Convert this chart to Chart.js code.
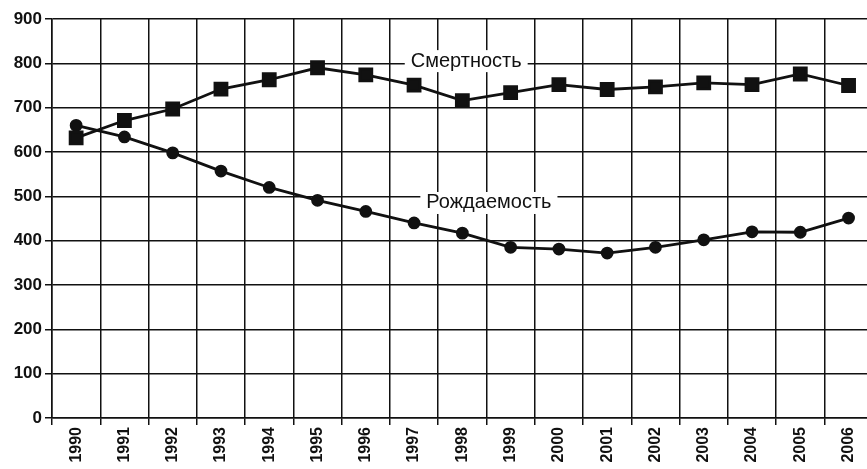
<!DOCTYPE html>
<html>
<head>
<meta charset="utf-8">
<script src="https://cdn.jsdelivr.net/npm/chart.js@4/dist/chart.umd.min.js"></script>
<style>
  html, body { margin: 0; padding: 0; background: #fff; overflow: hidden; }
  #wrap { width: 884px; height: 469px; }
</style>
</head>
<body>
<div id="wrap"><canvas id="demoChart"></canvas></div>
<script>
// годы
const years = ["1990","1991","1992","1993","1994","1995","1996","1997","1998",
  "1999","2000","2001","2002","2003","2004","2005","2006"];
// смертность (квадраты)
const deaths = [632, 671, 697, 742, 763, 790, 774, 751, 716, 734, 752, 741, 747, 756, 752, 776, 750];
// рождаемость (кружки)
const births = [660, 634, 598, 557, 520, 491, 466, 440, 417, 385, 381, 372, 385, 402, 420, 419, 451];
const yTicks = [0, 100, 200, 300, 400, 500, 600, 700, 800, 900];

// подписи линий: [текст, позиция по категории, значение]
const lineLabels = [
  ["Смертность", 8.08, 805],
  ["Рождаемость", 8.55, 485]
];

const labelPlugin = {
  id: "lineLabels",
  afterDatasetsDraw(chart) {
    const ctx = chart.ctx;
    const xs = chart.scales.x, ys = chart.scales.y;
    ctx.save();
    ctx.font = "20px 'Liberation Sans', Arial, sans-serif";
    ctx.textAlign = "center";
    ctx.textBaseline = "middle";
    lineLabels.forEach(function (l) {
      const x = xs.getPixelForValue(l[1]);
      const y = ys.getPixelForValue(l[2]);
      const w = ctx.measureText(l[0]).width;
      ctx.fillStyle = "#fff";
      ctx.fillRect(x - w / 2 - 6, y - 11, w + 12, 22);
      ctx.fillStyle = "#111";
      ctx.fillText(l[0], x, y);
    });
    ctx.restore();
  }
};

new Chart(document.getElementById("demoChart"), {
  type: "line",
  data: {
    labels: years,
    datasets: [
      {
        label: "Смертность",
        data: deaths,
        borderColor: "#111",
        backgroundColor: "#111",
        borderWidth: 2.8,
        pointStyle: "rect",
        pointRadius: 8.5,
        pointHoverRadius: 8.5,
        tension: 0
      },
      {
        label: "Рождаемость",
        data: births,
        borderColor: "#111",
        backgroundColor: "#111",
        borderWidth: 2.8,
        pointStyle: "circle",
        pointRadius: 5,
        pointHoverRadius: 5,
        tension: 0
      }
    ]
  },
  options: {
    responsive: true,
    maintainAspectRatio: false,
    animation: false,
    layout: { padding: { top: 19, right: 0, left: 0, bottom: 0 } },
    plugins: {
      legend: { display: false },
      tooltip: { enabled: false }
    },
    scales: {
      x: {
        offset: true,
        grid: { color: "#111", lineWidth: 1.5, tickLength: 7, offset: true },
        border: { color: "#111", width: 1.5 },
        ticks: {
          color: "#111",
          font: { family: "'Liberation Sans', Arial, sans-serif", size: 16, weight: "bold" },
          minRotation: 90,
          maxRotation: 90,
          autoSkip: false,
          padding: 2
        },
        afterFit(scale) { scale.height = 51; }
      },
      y: {
        min: 0,
        max: 900,
        afterBuildTicks(scale) { scale.ticks = yTicks.map(function (v) { return { value: v }; }); },
        grid: { color: "#111", lineWidth: 1.5, tickLength: 7 },
        border: { color: "#111", width: 1.5 },
        ticks: {
          color: "#111",
          font: { family: "'Liberation Sans', Arial, sans-serif", size: 17, weight: "bold" },
          padding: 3
        },
        afterFit(scale) { scale.width = 52; }
      }
    }
  },
  plugins: [labelPlugin]
});
</script>
</body>
</html>
